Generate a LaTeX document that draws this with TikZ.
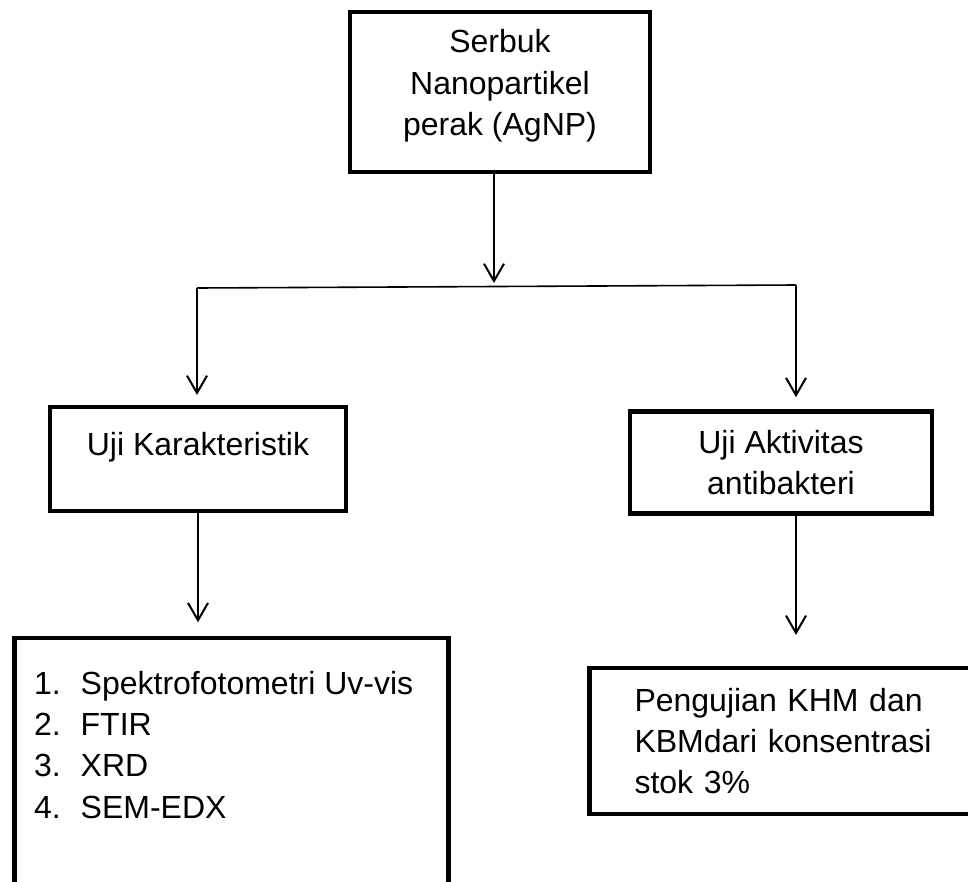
\documentclass[tikz,border=0pt]{standalone}
\usepackage{fontspec}
\setmainfont{Liberation Sans}
\usetikzlibrary{arrows.meta,positioning}
\definecolor{ink}{HTML}{000000}
\tikzset{
  box/.style={draw=ink, line width=3.6pt, align=center, inner sep=4pt, font=\fontsize{24}{31}\selectfont},
  listtext/.style={anchor=base west, inner sep=0pt, font=\fontsize{24}{31}\selectfont},
  arrow/.style={-{Straight Barb[length=13pt,width=15pt]}, line width=1.5pt, draw=ink},
  branch/.style={line width=1.2pt, draw=ink}
}

\begin{document}
\begin{tikzpicture}[x=0.75pt, y=-0.75pt]
  \useasboundingbox (0,0) rectangle (968,882);
  \clip (0,0) rectangle (968,882);

  \node[box, minimum width=225pt, minimum height=120pt, text depth=14pt] (serbuk) at (500,92) {Serbuk\\Nanopartikel\\perak (AgNP)};
  \node[box, minimum width=222pt, minimum height=78pt, text height=17pt, text depth=23pt] (karakter) at (198,459) {Uji Karakteristik};
  \node[box, minimum width=226.5pt, minimum height=77pt] (aktivitas) at (781,462.5) {Uji Aktivitas\\antibakteri};
  \node[box, minimum width=326pt, minimum height=211.5pt] (metode) at (231.5,779) {};
  \node[listtext] (daftar) at ([xshift=16.5pt, yshift=-44pt]metode.north west) {%
    \begin{tabular}[t]{@{}p{35pt}@{}l@{}}
      1. & Spektrofotometri Uv-vis\\
      2. & FTIR\\
      3. & XRD\\
      4. & SEM-EDX
    \end{tabular}};
  \node[box, minimum width=308pt, minimum height=109.5pt, text width=240pt, align=left, yshift=0pt] (hasil) at (794.5,741) {Pengujian KHM dan\\KBMdari konsentrasi\\stok 3\%};

  \coordinate (cabangkiri) at (197,288);
  \coordinate (cabangkanan) at (796,285);
  \coordinate (cabangtengah) at (494,286.5);

  \draw[branch] (cabangkiri) -- (cabangkanan);
  \draw[arrow, shorten >=2.6pt] ([xshift=-4.5pt]serbuk.south) -- (cabangtengah);
  \draw[arrow, shorten >=7.2pt] (cabangkiri) -- (cabangkiri |- karakter.north);
  \draw[arrow, shorten >=8.7pt] (cabangkanan) -- (cabangkanan |- aktivitas.north);
  \draw[arrow, shorten >=10pt] (karakter.south) -- (karakter.south |- metode.north);
  \draw[arrow, shorten >=23pt] (cabangkanan |- aktivitas.south) -- (cabangkanan |- hasil.north);
\end{tikzpicture}
\end{document}
